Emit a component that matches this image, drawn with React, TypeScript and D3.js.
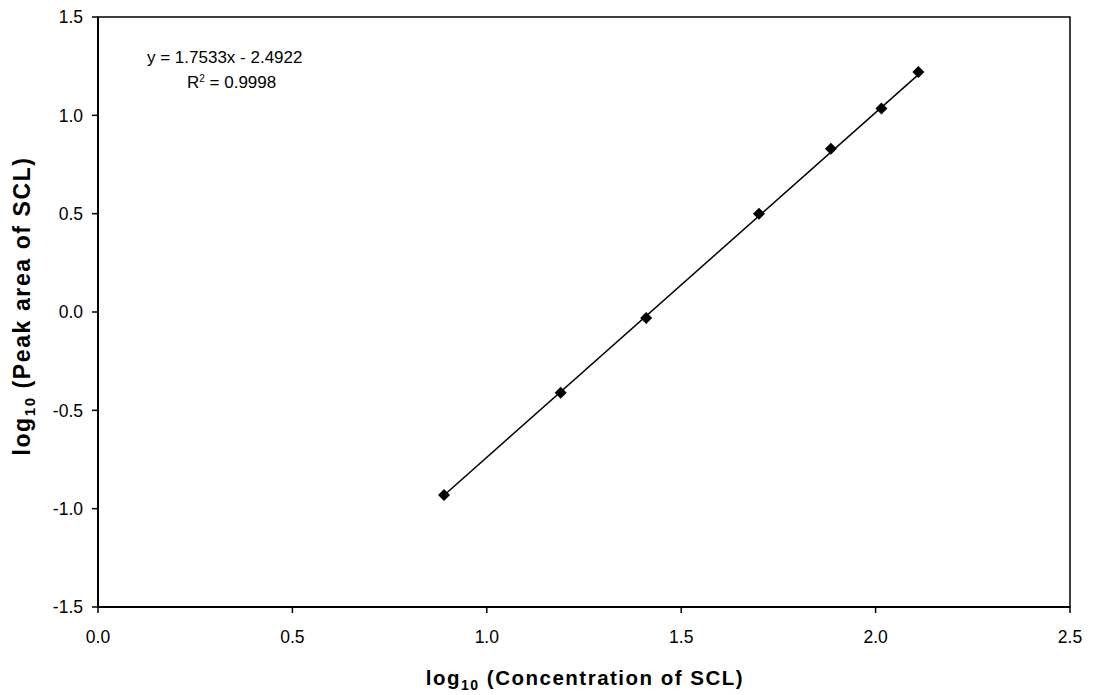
import React from "react";
import * as d3 from "d3";

const xValues = [0.89, 1.19, 1.41, 1.70, 1.885, 2.015, 2.11];
const yValues = [-0.93, -0.41, -0.03, 0.50, 0.83, 1.035, 1.22];
const slope = 1.7533;
const intercept = -2.4922;
const xTicks = [0, 0.5, 1.0, 1.5, 2.0, 2.5];
const yTicks = [-1.5, -1.0, -0.5, 0, 0.5, 1.0, 1.5];
const equationText = "y = 1.7533x - 2.4922";
const r2Value = "0.9998";

const W = 1095;
const H = 695;
const left = 98;
const right = 1070;
const top = 17;
const bottom = 607;

export default function App() {
  const x = d3.scaleLinear().domain([0, 2.5]).range([left, right]);
  const y = d3.scaleLinear().domain([-1.5, 1.5]).range([bottom, top]);
  const xMin = d3.min(xValues) as number;
  const xMax = d3.max(xValues) as number;
  const lineGen = d3
    .line<number>()
    .x((d) => x(d))
    .y((d) => y(slope * d + intercept));
  const marker = d3.symbol().type(d3.symbolSquare).size(72)() as string;
  const font = "'Liberation Sans', Arial, sans-serif";
  return (
    <svg
      width={W}
      height={H}
      style={{ position: "absolute", left: 0, top: 0, background: "#fff" }}
      fontFamily={font}
    >
      <rect x={0} y={0} width={W} height={H} fill="#fff" />
      <rect
        x={left}
        y={top}
        width={right - left}
        height={bottom - top}
        fill="none"
        stroke="#000"
        strokeWidth={1.5}
      />
      <line x1={left} x2={left} y1={top} y2={bottom} stroke="#000" strokeWidth={2} />
      <line x1={left} x2={right} y1={bottom} y2={bottom} stroke="#000" strokeWidth={2} />
      {yTicks.map((t) => (
        <g key={"y" + t}>
          <line x1={left - 6} x2={left} y1={y(t)} y2={y(t)} stroke="#000" strokeWidth={1.5} />
          <text
            x={left - 15}
            y={y(t)}
            dy="0.36em"
            textAnchor="end"
            fontSize={17.5}
          >
            {d3.format(".1f")(t).replace("−", "-")}
          </text>
        </g>
      ))}
      {xTicks.map((t) => (
        <g key={"x" + t}>
          <line x1={x(t)} x2={x(t)} y1={bottom} y2={bottom + 6} stroke="#000" strokeWidth={1.5} />
          <text x={x(t)} y={bottom + 36} textAnchor="middle" fontSize={17.5}>
            {d3.format(".1f")(t)}
          </text>
        </g>
      ))}
      <path d={lineGen([xMin, xMax]) as string} stroke="#000" strokeWidth={1.5} fill="none" />
      {xValues.map((v, i) => (
        <path
          key={i}
          d={marker}
          transform={`translate(${x(v)},${y(yValues[i])}) rotate(45)`}
          fill="#000"
        />
      ))}
      <text x={147} y={63} fontSize={17}>
        {equationText}
      </text>
      <text x={187} y={88} fontSize={17}>
        R<tspan dy={-6} fontSize={10}>2</tspan>
        <tspan dy={6}>{" = " + r2Value}</tspan>
      </text>
      <text
        x={585}
        y={685}
        textAnchor="middle"
        fontSize={20.5}
        fontWeight="bold"
        letterSpacing={1.5}
      >
        log<tspan dy={5} fontSize={14}>10</tspan>
        <tspan dy={-5}> (Concentration of SCL)</tspan>
      </text>
      <text
        transform={`translate(30,306) rotate(-90)`}
        textAnchor="middle"
        fontSize={23}
        fontWeight="bold"
        letterSpacing={1.6}
      >
        log<tspan dy={5} fontSize={15}>10</tspan>
        <tspan dy={-5}> (Peak area of SCL)</tspan>
      </text>
    </svg>
  );
}
